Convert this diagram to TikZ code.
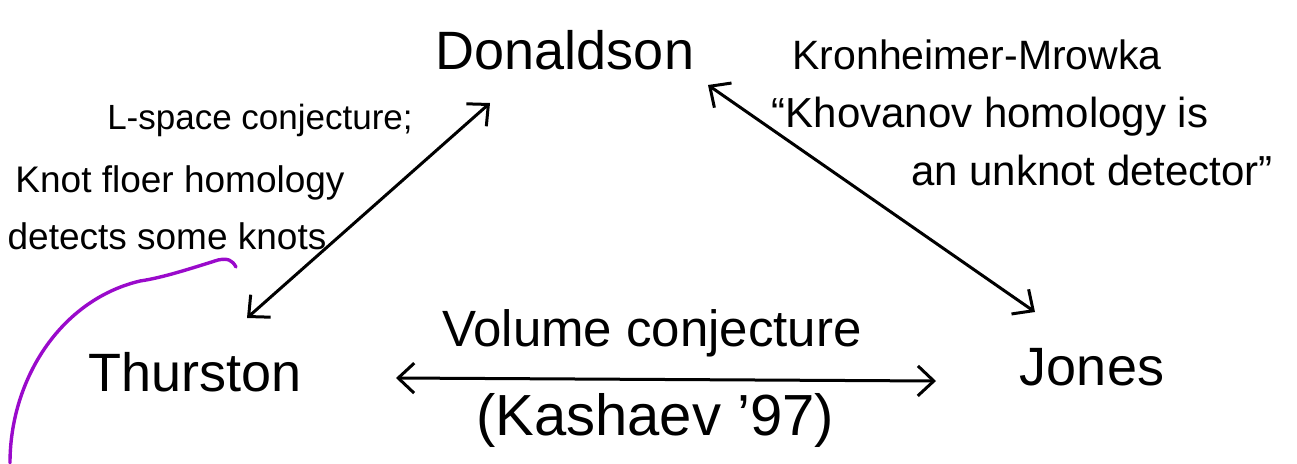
\documentclass[tikz,border=0pt]{standalone}
\usepackage{fontspec}
\setmainfont{Liberation Sans}
\usetikzlibrary{arrows.meta}
\definecolor{hwpurple}{HTML}{9A0ACB}
\tikzset{
  big/.style={font=\fontsize{54}{60}\selectfont, inner sep=0pt},
  med/.style={font=\fontsize{46}{52}\selectfont, inner sep=0pt},
  note/.style={font=\fontsize{37}{42}\selectfont, inner sep=0pt},
  tip/.style={},
  link/.style={line width=3pt, line cap=round, {Straight Barb[length=16pt,width=30pt,line width=3pt]}-{Straight Barb[length=16pt,width=30pt,line width=3pt]}},
  hook/.style={line width=3.4pt, hwpurple, line cap=round}
}
\begin{document}
\begin{tikzpicture}[x=1pt,y=-1pt]
\useasboundingbox (0,0) rectangle (1297,463);
% vertices
\node[big] (don) at (565,50) {Donaldson};
\node[big] (thu) at (195,372) {Thurston};
\node[big] (jon) at (1092,367) {Jones};
% labels
\node[note, font=\fontsize{41}{46}\selectfont] (km) at (977,55) {Kronheimer-Mrowka};
\node[note, font=\fontsize{42}{46}\selectfont] (kh1) at (990,117) {``Khovanov homology is};
\node[note, font=\fontsize{42}{46}\selectfont] (kh2) at (1092,170) {an unknot detector''};
\node[note, font=\fontsize{35}{40}\selectfont] (ls) at (260,120) {L-space conjecture;};
\node[note] (kf) at (180,183) {Knot floer homology};
\node[note] (dk) at (167,236) {detects some knots};
\node[med, font=\fontsize{51}{56}\selectfont] (vc) at (652,333) {Volume conjecture};
\node[med, font=\fontsize{58}{64}\selectfont] (ka) at (655,420) {(Kashaev '97)};
% connector end points
\coordinate (dT) at (490,103);
\coordinate (tD) at (247,318);
\coordinate (dJ) at (708,85);
\coordinate (jD) at (1035,312);
\coordinate (tJ) at (396,378);
\coordinate (jT) at (936,381);
\draw[link] (tD) -- (dT);
\draw[link] (dJ) -- (jD);
\draw[link] (tJ) -- (jT);
% purple hook
\coordinate (h0) at (236,267);
\coordinate (h1) at (10,463);
\draw[hook] (h0) .. controls (232,260) and (228,258) .. (218,260)
  .. controls (180,272) and (160,278) .. (140,281)
  .. controls (60,300) and (10,380) .. (h1);
\end{tikzpicture}
\end{document}
